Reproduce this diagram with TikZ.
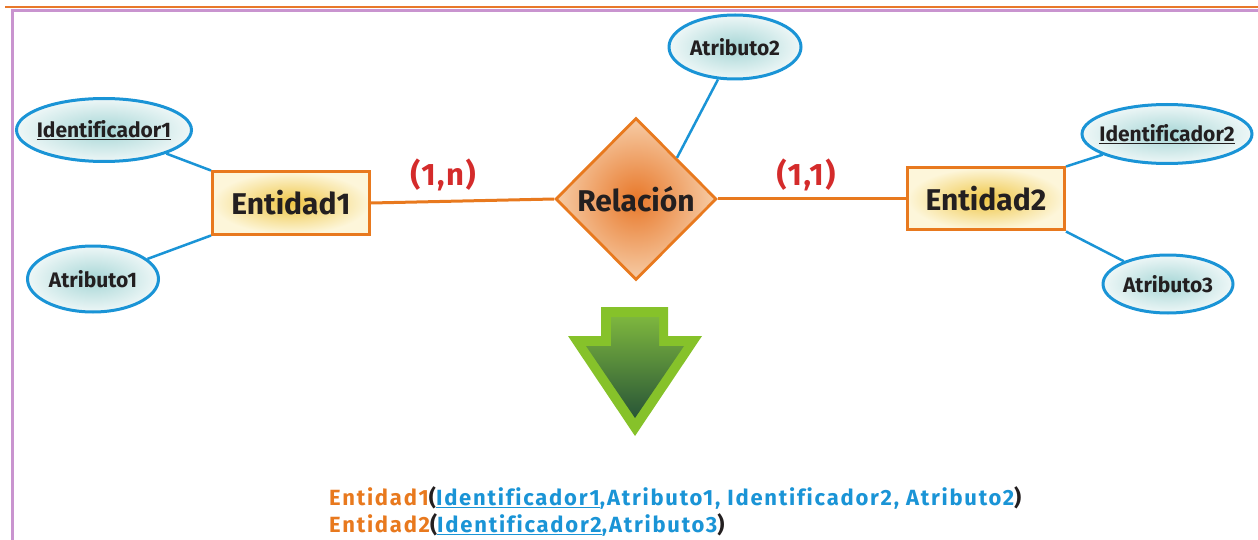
\documentclass[tikz,border=0pt]{standalone}
\usepackage{fontspec}
\setmainfont[Ligatures=CommonOff]{Fira Sans}
\usetikzlibrary{shapes.geometric}

\definecolor{frameorange}{HTML}{E8782A}
\definecolor{framepurple}{HTML}{C994CF}
\definecolor{attrblue}{HTML}{1A94D6}
\definecolor{attrcore}{HTML}{A6D6D6}
\definecolor{attredge}{HTML}{EEF7F7}
\definecolor{entborder}{HTML}{E8791E}
\definecolor{entcore}{HTML}{EFC645}
\definecolor{entedge}{HTML}{FDF6DA}
\definecolor{relcore}{HTML}{E8782A}
\definecolor{reledge}{HTML}{F6CCA6}
\definecolor{cardred}{HTML}{D42B2B}
\definecolor{arrowrim}{HTML}{86C22A}
\definecolor{arrowtop}{HTML}{7DB63E}
\definecolor{arrowbot}{HTML}{285537}
\definecolor{textgray}{HTML}{231F20}

\tikzset{
  attr/.style={ellipse, draw=attrblue, line width=3pt,
    inner color=attrcore, outer color=attredge, inner sep=0pt},
  attrtext/.style={inner sep=0pt, text=textgray,
    font=\bfseries\fontsize{21}{24}\selectfont},
  entity/.style={rectangle, draw=entborder, line width=3pt,
    inner color=entcore, outer color=entedge, inner sep=0pt,
    minimum width=157pt, minimum height=62pt,
    text=textgray, font=\bfseries\fontsize{30}{34}\selectfont},
  relation/.style={diamond, draw=entborder, line width=2.8pt,
    inner color=relcore, outer color=reledge, inner sep=0pt,
    minimum width=161pt, minimum height=162pt,
    text=textgray, font=\bfseries\fontsize{30}{34}\selectfont},
  attrlink/.style={draw=attrblue, line width=2.5pt},
  rellink/.style={draw=entborder, line width=3pt},
  card/.style={text=cardred,
    font=\bfseries\fontsize{31}{34}\selectfont\addfontfeature{LetterSpace=5}},
  schema/.style={anchor=base west, inner sep=0pt,
    font=\bfseries\fontsize{22}{26}\selectfont\addfontfeature{LetterSpace=8}},
}

\begin{document}
\begin{tikzpicture}[x=1pt,y=-1pt]
\useasboundingbox (0,0) rectangle (1258,540);

% page rules and frame
\draw[frameorange, line width=1.3pt] (5,7) -- (1258,7);
\draw[framepurple, line width=3pt] (12,541) -- (12,10.5) -- (1258,10.5);

% entities and relationship
\node[entity]   (e1)  at (291,203) {Entidad1};
\node[entity]   (e2)  at (986,199) {Entidad2};
\node[relation] (rel) at (636,199) {Relación};

% attributes (the ellipse is sized explicitly, the name sits in a centred label)
\node[attr, minimum width=175pt, minimum height=63pt,
  label={[attrtext]center:\underline{Identificador1}}] (id1) at (104,130) {};
\node[attr, minimum width=131pt, minimum height=66pt,
  label={[attrtext]center:Atributo1}] (a1) at (93,279) {};
\node[attr, minimum width=132pt, minimum height=64pt,
  label={[attrtext]center:Atributo2}] (a2) at (735,47) {};
\node[attr, minimum width=170pt, minimum height=59pt,
  label={[attrtext]center:\underline{Identificador2}}] (id2) at (1167,134) {};
\node[attr, minimum width=130pt, minimum height=58pt,
  label={[attrtext]center:Atributo3}] (a3) at (1168,284) {};

% connectors
\draw[attrlink] (id1) -- (e1.north west);
\draw[attrlink] (a1) -- (e1.south west);
\draw[attrlink] (a2) -- (rel.north east);
\draw[attrlink] (e2.north east) -- (id2);
\draw[attrlink] (e2.south east) -- (a3);
\draw[rellink] (e1.east) -- (rel.west);
\draw[rellink] (rel.east) -- (e2.west);

% cardinalities
\node[card] (c1) at (443,175) {(1,n)};
\node[card] (c2) at (806,175) {(1,1)};

% transformation arrow
\fill[arrowrim] (601,307) -- (668,307) -- (668,336) -- (702,336) -- (635,436)
  -- (568,336) -- (601,336) -- cycle;
\shade[top color=arrowtop, bottom color=arrowbot] (611,317) -- (659,317) -- (659,346)
  -- (684,346) -- (635,418) -- (586,346) -- (611,346) -- cycle;

% resulting relational schema
\node[schema] (s1) at (329,505) {\textcolor{entborder}{Entidad1}\textcolor{textgray}{(}\textcolor{attrblue}{\underline{Identificador1},Atributo1, Identificador2, Atributo2}\textcolor{textgray}{)}};
\node[schema] (s2) at (329,532) {\textcolor{entborder}{Entidad2}\textcolor{textgray}{(}\textcolor{attrblue}{\underline{Identificador2},Atributo3}\textcolor{textgray}{)}};
\end{tikzpicture}
\end{document}
